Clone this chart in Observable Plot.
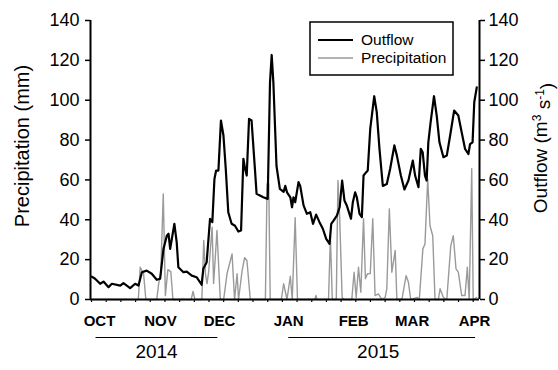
<!DOCTYPE html>
<html><head><meta charset="utf-8">
<script src="https://cdn.jsdelivr.net/npm/d3@7"></script>
<script src="https://cdn.jsdelivr.net/npm/@observablehq/plot@0.6"></script>
<style>body{margin:0;background:#fff} #chart{width:558px;height:370px}</style>
</head><body><div id="chart"></div>
<script>
// Day offsets from 1 Oct 2014
const outflowDays = [0.1,1.7,4.1,5.7,8.1,9.7,13.7,15.2,18.4,20.8,22.4,24,26.3,28.7,31.1,32.7,34.3,35.9,36.7,37.5,39.5,40.6,41.4,43.8,45.4,47.8,50.1,52.5,53.3,54.9,56.5,57.6,58.6,59.4,60.5,61.7,62.9,64,65.2,66.8,68.4,70,71.3,72.4,73.2,74,75.1,76.3,77.9,78.7,80.3,81.9,84,85.1,85.9,86.7,88.2,89.8,91.6,92.4,93.2,94.8,95.6,96.3,97.1,98.7,99.5,101.1,102.7,104.3,105.6,107.1,108.7,110.3,111.9,113.5,114.3,115.4,117,118.3,119.5,120.6,121.7,123.7,124.6,125.7,126.5,127.8,128.9,129.7,131,131.7,132.9,134.8,136,137.3,138.9,140.8,142.4,144.4,145.6,147.5,149.2,151.1,153.2,154.3,155.9,157,157.9,159,159.8,160.6,161.7,163.3,164.6,165.9,167.8,169.4,171,172.9,174.9,176.5,178.1,179.7,180.5,181.7,182.5,183.7];
const outflowValues = [11.5,10.4,7.9,9,6.2,7.9,7,8.2,5.7,7.9,7,13.7,14.5,12.9,9.9,10.4,25.4,32,33,25.4,38,28.8,16.2,13.7,14,12,11.2,7.4,15.4,18.7,40.5,38.8,60.5,64.7,64.7,89.8,82.3,65.6,43.8,38,37,34.1,34.6,70.6,65.6,62.2,90.6,89.8,65.6,53,52.2,51.3,50.5,109,122.7,109,67,55.5,54,57,53.8,51.3,46.3,51.3,48.8,58.9,57,47.2,43,43.8,38,42.6,38.8,35.5,30.4,27.9,38,39.6,42.1,46.3,59.7,49.7,47.2,40.5,48.8,53.8,51.3,43,41.3,62.2,63.9,64.7,85.6,102,94,75.6,57,58,65.6,77.3,72.2,62.2,55.2,59.7,69.7,62.2,56.4,75.6,73.9,62.2,59.7,78.9,89,102,92.3,78.9,71.4,72.2,82.3,94.8,92.3,83.9,75.6,73,78,78.9,99,106.5];
const precipDays = [0,22.3,23.2,24.8,25.9,31.1,32,33,34.2,35.2,36.4,37.8,38.8,47.5,48.4,49.3,52.6,53.5,54.3,55.1,55.9,57.5,58.2,59,59.8,61.4,63,64.6,67,68.2,69.4,70.1,71.8,73,74.1,75.7,82.9,83.7,84.5,85.2,90.5,91.6,93.2,94.8,95.7,97.1,98.2,106.5,107,107.6,113,113.9,114.8,116.7,117.5,118.3,119.5,120.5,124.1,125.2,126.2,127.3,128.4,129.7,130.6,131.6,132.9,134.1,135.2,136.8,138.4,140,140.8,142,143.2,144.8,145.6,148,150,151.1,152.2,155.4,156.3,158,159,160.3,161.4,162.7,163.8,165.4,166.2,167.8,169.4,171.3,172.5,173.8,174.9,176.5,178.1,179.2,180.1,181.3,182,183.7];
const precipValues = [0,0,16.2,13,0,0,8,13,53,2,15,14,0,0,4,0,0,29.6,12.9,8,14.5,36.3,8,21,34.6,0,0,12.9,22.9,0,12.9,0,14.5,21,19.6,0,0,58,58,0,0,7.9,0,11.7,0,41,0,0,2,0,0,32,0,0,59.7,42,1,0,0,13.7,1,16.2,3.7,40.5,10.4,12.9,13,40.5,2,2.8,0,1,5.4,45.5,13.7,24.6,0,0,12,8.7,0,1,0,25.4,27.9,60.5,37,32,0,0,5.4,1,0,27,32,15.4,13.7,2,2,16.2,0,65.6,0,1];
const yTicks = [0,20,40,60,80,100,120,140];
const monthLabels = ["OCT","NOV","DEC","JAN","FEB","MAR","APR"];
const monthDays = [3.8,32.9,61,94,125,152.9,182.6];
const yearLabels = ["2014","2015"];
const yearDays = [31,136.7];
const yearLineStart = [1.9,93.8];
const yearLineEnd = [60,182.9];
const weekTicks = d3.range(0, 184, 7);

const outflow = outflowDays.map((d,i)=>({d, v: outflowValues[i]}));
const precip = precipDays.map((d,i)=>({d, v: precipValues[i]}));
const months = monthLabels.map((t,i)=>({t, d: monthDays[i]}));
const years = yearLabels.map((t,i)=>({t, d: yearDays[i], a: yearLineStart[i], b: yearLineEnd[i]}));

const FONT = "'Liberation Sans', Arial, Helvetica, sans-serif";
const xMin = -0.5, xMax = 185;

const chart = Plot.plot({
  width: 558, height: 370,
  marginLeft: 90, marginRight: 79, marginTop: 20, marginBottom: 71,
  style: {fontFamily: FONT, color: "#000", background: "#fff", overflow: "visible"},
  x: {domain: [xMin, xMax]},
  y: {domain: [0, 140]},
  marks: [
    Plot.axisY({ticks: yTicks, tickSize: 5, tickPadding: 6, fontSize: 18, label: null, strokeWidth: 1.5}),
    Plot.axisY({anchor: "right", ticks: yTicks, tickSize: 5, tickPadding: 4, fontSize: 18, label: null, strokeWidth: 1.5}),
    Plot.axisX({ticks: weekTicks, tickSize: 3, tickFormat: () => "", label: null, strokeWidth: 1.2}),
    Plot.line(precip, {x: "d", y: "v", stroke: "#9a9a9a", strokeWidth: 1.4}),
    Plot.line(outflow, {x: "d", y: "v", stroke: "#000", strokeWidth: 2.2}),
    Plot.ruleY([0], {stroke: "#000", strokeWidth: 2}),
    Plot.ruleX([xMin, xMax], {stroke: "#000", strokeWidth: 2}),
    Plot.text(months, {x: "d", text: "t", frameAnchor: "bottom", dy: 26, fontWeight: "bold", fontSize: 15}),
    Plot.link(years, {x1: "a", x2: "b", y1: () => 0, y2: () => 0, dy: 38, stroke: "#000", strokeWidth: 1.2}),
    Plot.text(years, {x: "d", text: "t", frameAnchor: "bottom", dy: 58, fontSize: 19})
  ]
});
document.getElementById("chart").appendChild(chart);

const svg = d3.select(chart);
// axis titles
svg.append("text").attr("transform", "translate(22,146) rotate(-90)")
  .attr("text-anchor", "middle").attr("dy", "0.35em")
  .style("font-family", FONT).style("font-size", "20px").attr("fill", "#000")
  .text("Precipitation (mm)");
const rt = svg.append("text").attr("transform", "translate(540,148) rotate(-90)")
  .attr("text-anchor", "middle").attr("dy", "0.35em")
  .style("font-family", FONT).style("font-size", "19px").attr("fill", "#000");
rt.append("tspan").text("Outflow (m");
rt.append("tspan").attr("dy", "-0.45em").style("font-size", "12px").text("3");
rt.append("tspan").attr("dy", "0.45em").text(" s");
rt.append("tspan").attr("dy", "-0.45em").style("font-size", "12px").text("-1");
rt.append("tspan").attr("dy", "0.45em").text(")");
// legend
const lg = svg.append("g").attr("text-anchor", "start");
lg.append("rect").attr("x", 310).attr("y", 22).attr("width", 143).attr("height", 53)
  .attr("fill", "#fff").attr("stroke", "#000").attr("stroke-width", 1.5);
lg.append("line").attr("x1", 318).attr("x2", 353).attr("y1", 40).attr("y2", 40).attr("stroke", "#000").attr("stroke-width", 2.2);
lg.append("line").attr("x1", 318).attr("x2", 353).attr("y1", 58).attr("y2", 58).attr("stroke", "#9a9a9a").attr("stroke-width", 1.4);
lg.append("text").attr("x", 361).attr("y", 40).attr("dy", "0.35em").attr("text-anchor", "start").style("font-family", FONT).style("font-size", "15.5px").text("Outflow");
lg.append("text").attr("x", 361).attr("y", 58).attr("dy", "0.35em").attr("text-anchor", "start").style("font-family", FONT).style("font-size", "15.5px").text("Precipitation");
</script></body></html>
